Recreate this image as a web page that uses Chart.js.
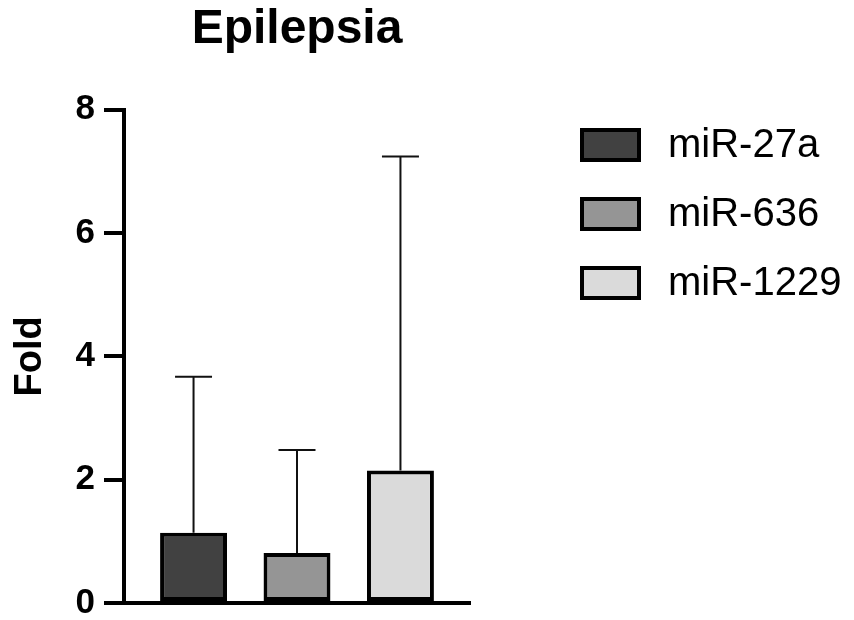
<!DOCTYPE html>
<html>
<head>
<meta charset="utf-8">
<script src="https://cdn.jsdelivr.net/npm/chart.js@4.4.0/dist/chart.umd.min.js"></script>
<style>
    body { margin: 0; background: #ffffff; }
    #foldChart { display: block; }
</style>
</head>
<body>
<canvas id="foldChart" width="854" height="620"></canvas>
<script>
"use strict";
// data
const chartTitle = 'Epilepsia';
const categories = [''];
const seriesNames = ['miR-27a', 'miR-636', 'miR-1229'];
const foldMeans = [1.14, 0.81, 2.15];
const foldErrTop = [3.67, 2.48, 7.24];
const yTicks = [0, 2, 4, 6, 8];
const barColors = ['#414141', '#959595', '#dadada'];

const FONT = "'Liberation Sans', Arial, sans-serif";

// error bars (upper only) on top of each bar
const errorBars = {
    id: 'errorBars',
    afterDatasetsDraw(chart) {
        const ctx = chart.ctx;
        const yScale = chart.scales.y;
        ctx.save();
        ctx.strokeStyle = '#111111';
        ctx.lineWidth = 2;
        for (let i = 0; i < chart.data.datasets.length; i++) {
            const bar = chart.getDatasetMeta(i).data[0];
            const top = yScale.getPixelForValue(foldErrTop[i]);
            ctx.beginPath();
            ctx.moveTo(bar.x, bar.y);
            ctx.lineTo(bar.x, top);
            ctx.moveTo(bar.x - 18.5, top);
            ctx.lineTo(bar.x + 18.5, top);
            ctx.stroke();
        }
        ctx.restore();
    }
};

// legend to the right of the plot
const sideLegend = {
    id: 'sideLegend',
    afterDraw(chart) {
        const ctx = chart.ctx;
        ctx.save();
        ctx.font = '40px ' + FONT;
        ctx.textBaseline = 'middle';
        chart.data.datasets.forEach(function (ds, i) {
            const cy = 145 + i * 69;
            ctx.fillStyle = ds.backgroundColor;
            ctx.fillRect(582, cy - 15, 57, 30);
            ctx.strokeStyle = '#000000';
            ctx.lineWidth = 4;
            ctx.strokeRect(582, cy - 15, 57, 30);
            ctx.fillStyle = '#000000';
            ctx.fillText(ds.label, 668, cy + 1);
        });
        ctx.restore();
    }
};

const datasets = [];
for (let i = 0; i < seriesNames.length; i++) {
    datasets.push({
        label: seriesNames[i],
        data: [foldMeans[i]],
        backgroundColor: barColors[i],
        borderColor: '#000000',
        borderWidth: 4,
        borderSkipped: false
    });
}

const config = {
    type: 'bar',
    data: {
        labels: categories,
        datasets: datasets
    },
    options: {
        responsive: false,
        devicePixelRatio: 1,
        animation: false,
        categoryPercentage: 0.897,
        barPercentage: 0.647,
        layout: {
            padding: { top: 0, left: 0, right: 384, bottom: 17 }
        },
        plugins: {
            legend: { display: false },
            tooltip: { enabled: false },
            title: {
                display: true,
                text: chartTitle,
                fullSize: false,
                color: '#000000',
                font: { family: FONT, size: 48, weight: 'bold' },
                padding: { top: 1, bottom: 51 }
            }
        },
        scales: {
            x: {
                grid: { display: false, drawTicks: false },
                ticks: { display: false },
                border: { display: true, color: '#000000', width: 4 },
                afterFit(scale) { scale.height = 0; }
            },
            y: {
                min: 0,
                max: 8,
                afterFit(scale) {
                    scale.width = 124;
                    scale.paddingTop = 0;
                    scale.paddingBottom = 0;
                },
                afterBuildTicks(scale) {
                    scale.ticks = yTicks.map(function (v) { return { value: v }; });
                },
                grid: {
                    drawOnChartArea: false,
                    drawTicks: true,
                    tickLength: 20,
                    lineWidth: 4,
                    color: '#000000'
                },
                border: { display: true, color: '#000000', width: 4 },
                ticks: {
                    padding: 9,
                    color: '#000000',
                    font: { family: FONT, size: 35, weight: 'bold' }
                },
                title: {
                    display: true,
                    text: 'Fold',
                    color: '#000000',
                    font: { family: FONT, size: 38, weight: 'bold' },
                    padding: { top: 8, bottom: 0 }
                }
            }
        }
    },
    plugins: [errorBars, sideLegend]
};

const myChart = new Chart(document.getElementById('foldChart'), config);
</script>
</body>
</html>
